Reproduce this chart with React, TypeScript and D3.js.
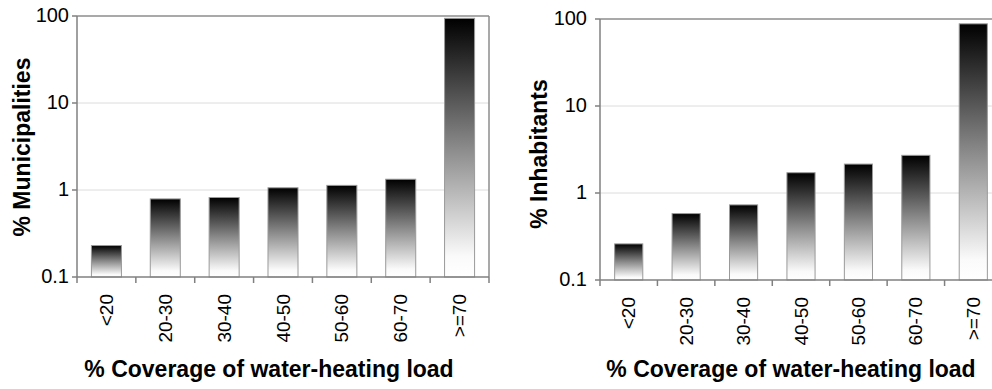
import * as d3 from "d3";

// categories and values
const categories = ["<20", "20-30", "30-40", "40-50", "50-60", "60-70", ">=70"];
const municipalities = [0.23, 0.79, 0.82, 1.06, 1.13, 1.33, 94];
const inhabitants = [0.26, 0.58, 0.73, 1.71, 2.15, 2.71, 88];
const yTicks = [0.1, 1, 10, 100];
const yTickLabels = ["0.1", "1", "10", "100"];

const FONT = "'Liberation Sans', Arial, sans-serif";

function Panel(props: any) {
  const { values, title, left, right, top, bottom, titleX, titleY, xTitleX, labelGap, inner, frameRight } = props;
  const y = d3.scaleLog().domain([0.1, 100]).range([bottom, top]);
  const x = d3
    .scaleBand()
    .domain(categories)
    .range([left, right])
    .paddingInner(inner)
    .paddingOuter(inner / 2);
  const step = x.step();

  return (
    <g>
      {/* gridlines */}
      {yTicks.slice(1, 3).map((t) => (
        <line key={t} x1={left} x2={right} y1={y(t)} y2={y(t)} stroke="#dcdcdc" strokeWidth={1} />
      ))}
      {/* frame top and right */}
      <line x1={left} x2={right} y1={top} y2={top} stroke="#8c8c8c" strokeWidth={1.5} />
      {frameRight && <line x1={right} x2={right} y1={top} y2={bottom} stroke="#8c8c8c" strokeWidth={1.5} />}

      {/* bars */}
      {values.map((v: number, i: number) => (
        <rect
          key={i}
          x={x(categories[i])}
          y={y(v)}
          width={x.bandwidth()}
          height={bottom - y(v)}
          fill="url(#barGrad)"
          stroke="#9a9a9a"
          strokeWidth={1}
        />
      ))}

      {/* axes */}
      <line x1={left} x2={left} y1={top} y2={bottom} stroke="#808080" strokeWidth={1.5} />
      <line x1={left} x2={right} y1={bottom} y2={bottom} stroke="#808080" strokeWidth={1.5} />
      {yTicks.map((t) => (
        <line key={t} x1={left - 5} x2={left} y1={y(t)} y2={y(t)} stroke="#808080" strokeWidth={1.5} />
      ))}
      {d3.range(categories.length + 1).map((i) => (
        <line
          key={i}
          x1={left + i * step}
          x2={left + i * step}
          y1={bottom}
          y2={bottom + 6}
          stroke="#808080"
          strokeWidth={1.5}
        />
      ))}

      {/* y tick labels */}
      {yTicks.map((t, i) => (
        <text
          key={t}
          x={left - labelGap}
          y={y(t) - 1}
          textAnchor="end"
          dominantBaseline="central"
          fontSize={20}
          fontFamily={FONT}
          fill="#000"
        >
          {yTickLabels[i]}
        </text>
      ))}

      {/* x tick labels */}
      {categories.map((c) => {
        const cx = (x(c) as number) + x.bandwidth() / 2;
        const cy = bottom + 17;
        return (
          <text
            key={c}
            transform={`translate(${cx},${cy}) rotate(-90)`}
            textAnchor="end"
            dominantBaseline="central"
            fontSize={19}
            fontFamily={FONT}
            fill="#000"
          >
            {c}
          </text>
        );
      })}

      {/* titles */}
      <text
        transform={`translate(${titleX},${titleY}) rotate(-90)`}
        textAnchor="middle"
        dominantBaseline="central"
        fontSize={23}
        fontWeight="bold"
        fontFamily={FONT}
        fill="#000"
      >
        {title}
      </text>
      <text x={xTitleX} y={377} textAnchor="middle" fontSize={23} fontWeight="bold" fontFamily={FONT} fill="#000">
        % Coverage of water-heating load
      </text>
    </g>
  );
}

export default function App() {
  return (
    <svg width={992} height={389} style={{ position: "absolute", left: 0, top: 0, background: "#fff" }}>
      <defs>
        <linearGradient id="barGrad" x1="0" y1="0" x2="0" y2="1">
          <stop offset="0" stopColor="#000" />
          <stop offset="0.5" stopColor="#8a8a8a" />
          <stop offset="0.92" stopColor="#fafafa" />
          <stop offset="1" stopColor="#fff" />
        </linearGradient>
      </defs>
      <rect width={992} height={389} fill="#fff" />
      <Panel
        values={municipalities}
        title="% Municipalities"
        left={77}
        right={489}
        top={16}
        bottom={277}
        titleX={22}
        titleY={147}
        xTitleX={269}
        labelGap={8}
        inner={0.49}
        frameRight={true}
      />
      <Panel
        values={inhabitants}
        title="% Inhabitants"
        left={600}
        right={1002}
        top={19}
        bottom={280}
        titleX={539}
        titleY={154}
        xTitleX={791}
        labelGap={13}
        inner={0.51}
        frameRight={false}
      />
    </svg>
  );
}
